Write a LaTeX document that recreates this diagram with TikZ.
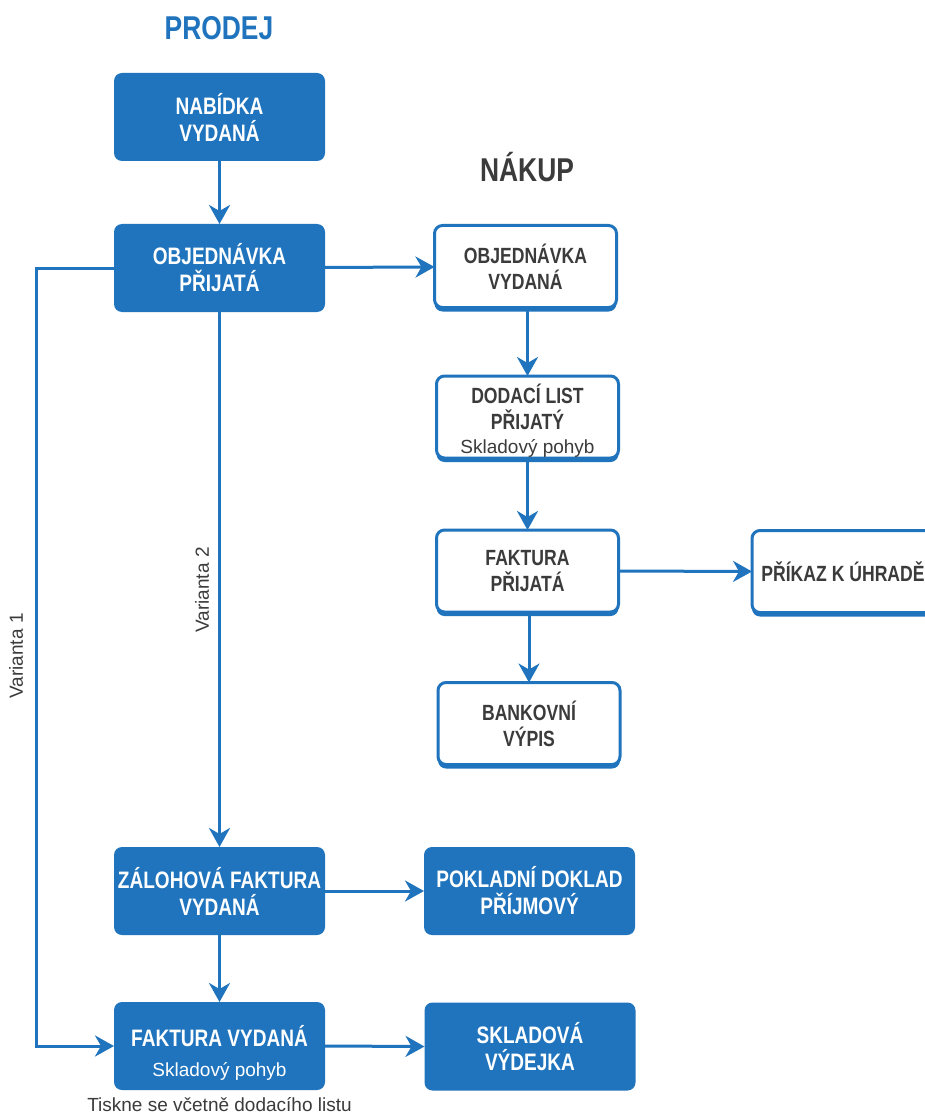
\documentclass[tikz,border=0pt]{standalone}
\usepackage{fontspec}
\setmainfont{Liberation Sans}
\newfontfamily\condb{Liberation Sans}[FakeStretch=0.8]
\usetikzlibrary{arrows.meta,shadows}
\definecolor{mainblue}{HTML}{1F74BD}
\definecolor{txtgray}{HTML}{3B3B3B}
\newcommand{\boxfont}{\condb\bfseries\fontsize{22}{26}\selectfont}
\newcommand{\bluefont}{\condb\bfseries\fontsize{23.8}{27}\selectfont}
\newcommand{\subfont}{\normalfont\fontsize{19}{22}\selectfont}
\newcommand{\titlefont}{\condb\bfseries\fontsize{33}{38}\selectfont}
\begin{document}
\begin{tikzpicture}[x=1pt,y=-1pt,
  bluebox/.style={fill=mainblue, rounded corners=8pt, minimum width=211pt, minimum height=88pt,
    inner sep=0pt, outer sep=0pt, text=white, font=\bluefont, align=center},
  whitebox/.style={draw=mainblue, line width=3pt, fill=white, rounded corners=8pt,
    minimum width=182pt, minimum height=82pt, inner sep=0pt, outer sep=0pt,
    text=txtgray, font=\boxfont, align=center,
    general shadow={fill=mainblue, shadow yshift=-4pt}},
  conn/.style={draw=mainblue, line width=3pt, -{Stealth[length=19pt,width=21pt,inset=6pt]}},
  lab/.style={font=\subfont, text=txtgray, inner sep=0pt}
]
\clip (0,0) rectangle (925,1115);
\fill[white] (0,0) rectangle (925,1115);

% titles
\node[font=\titlefont, text=mainblue] (tprodej) at (219,28) {PRODEJ};
\node[font=\titlefont, text=txtgray] (tnakup) at (527,167) {NÁKUP};

% PRODEJ boxes
\node[bluebox] (nab) at (219.5,117) {NABÍDKA\\VYDANÁ};
\node[bluebox] (objp) at (219.5,268) {OBJEDNÁVKA\\PŘIJATÁ};
\node[bluebox] (zal) at (219.5,891) {ZÁLOHOVÁ FAKTURA\\VYDANÁ};
\node[bluebox] (fv) at (219.5,1046) {\rule{0pt}{35pt}FAKTURA VYDANÁ\\[3pt]{\subfont Skladový pohyb}};
\node[bluebox] (pok) at (529.5,891) {POKLADNÍ DOKLAD\\PŘÍJMOVÝ};
\node[bluebox] (skl) at (530,1046.5) {SKLADOVÁ\\VÝDEJKA};

% NAKUP boxes
\node[whitebox] (objv) at (525.5,266.5) {OBJEDNÁVKA\\VYDANÁ};
\node[whitebox] (dod) at (527.5,417) {\rule{0pt}{26pt}DODACÍ LIST\\PŘIJATÝ\\[-2pt]{\subfont\color{txtgray}Skladový pohyb}};
\node[whitebox] (fp) at (527.5,571) {FAKTURA\\PŘIJATÁ};
\node[whitebox] (bank) at (529,723.5) {BANKOVNÍ\\VÝPIS};
\node[whitebox] (prik) at (843,571.5) {PŘÍKAZ K ÚHRADĚ};

% labels
\node[lab] (note) at (219.5,1105) {Tiskne se včetně dodacího listu};
\node[lab, rotate=90] (v2) at (202,590) {Varianta 2};
\node[lab, rotate=90] (v1) at (16,656) {Varianta 1};

\coordinate (v1x) at (36,0);

% connectors
\draw[conn] (nab) -- (objp);
\draw[conn] (objp) -- (objv);
\draw[conn] (objv.south -| dod.north) -- (dod.north);
\draw[conn] (dod.south) -- (fp.north);
\draw[conn] (fp.south -| bank.north) -- (bank.north);
\draw[conn] (fp.east) -- (prik.west);
\draw[conn] (objp.south) -- (zal.north);
\draw[conn] (objp.west) -- (objp.west -| v1x) |- (fv.west);
\draw[conn] (zal.east) -- (pok.west);
\draw[conn] (zal.south) -- (fv.north);
\draw[conn] (fv.east) -- (skl.west);
\end{tikzpicture}
\end{document}
